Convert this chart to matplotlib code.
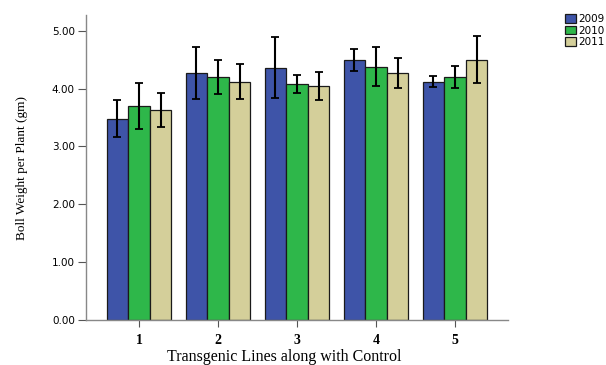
import matplotlib
matplotlib.use("Agg")
import matplotlib.pyplot as plt
import numpy as np

categories = ["1", "2", "3", "4", "5"]
years = ["2009", "2010", "2011"]
vals_2009 = [3.48, 4.27, 4.36, 4.50, 4.12]
vals_2010 = [3.70, 4.20, 4.08, 4.38, 4.20]
vals_2011 = [3.63, 4.12, 4.04, 4.27, 4.50]
err_2009 = [0.32, 0.45, 0.53, 0.19, 0.09]
err_2010 = [0.40, 0.29, 0.15, 0.34, 0.19]
err_2011 = [0.30, 0.31, 0.24, 0.26, 0.40]
yticks = [0.0, 1.0, 2.0, 3.0, 4.0, 5.0]

colors = ["#3E54A8", "#2EB74A", "#D4CF9A"]

fig = plt.figure(figsize=(6.06, 3.65), dpi=100)
ax = fig.add_axes([86/606, 45/365, 422/606, 305/365])

x = np.arange(1, len(categories) + 1)
w = 0.273
series = [vals_2009, vals_2010, vals_2011]
errs = [err_2009, err_2010, err_2011]
handles = []
for i, (v, e, c, lab) in enumerate(zip(series, errs, colors, years)):
    b = ax.bar(x + (i - 1) * w, v, width=w, color=c, edgecolor="#1a1a1a",
               linewidth=0.9, label=lab, zorder=2)
    ax.errorbar(x + (i - 1) * w, v, yerr=e, fmt="none", ecolor="black",
                elinewidth=1.5, capsize=3, capthick=1.3, zorder=3)
    handles.append(b)

ax.set_xlim(0.33, 5.67)
ax.set_ylim(0, 5.27)
ax.set_yticks(yticks)
ax.set_yticklabels([f"{t:.2f}" for t in yticks], fontsize=7.5, family="DejaVu Sans")
ax.set_xticks(x)
ax.set_xticklabels(categories, fontsize=10, fontweight="bold", family="Liberation Serif")
for s in ["top", "right"]:
    ax.spines[s].set_visible(False)
for s in ["left", "bottom"]:
    ax.spines[s].set_color("#888888")
    ax.spines[s].set_linewidth(1.0)
ax.tick_params(axis="y", direction="out", length=6, width=0.8, color="#555555", pad=2)
ax.tick_params(axis="x", direction="out", length=5, width=0.8, color="#555555", pad=5)

ax.set_ylabel("Boll Weight per Plant (gm)", fontsize=9.5, family="Liberation Serif", labelpad=17)
ax.set_xlabel("Transgenic Lines along with Control", fontsize=11.5, family="Liberation Serif", labelpad=1)
ax.xaxis.set_label_coords(0.47, -0.095)

leg = fig.legend(handles=handles, labels=years, loc="upper left",
                 bbox_to_anchor=(565/606, 1 - 14/365), frameon=False,
                 fontsize=7.5, handlelength=1.1, handleheight=0.9,
                 handletextpad=0.2, labelspacing=0.15, borderpad=0, borderaxespad=0)

fig.savefig("out.png", dpi=100)
